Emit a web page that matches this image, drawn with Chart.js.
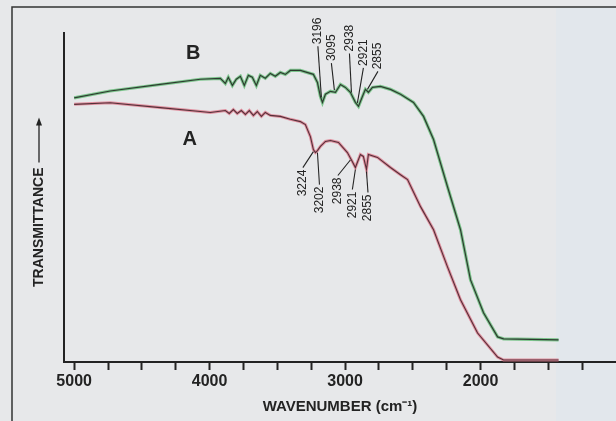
<!DOCTYPE html>
<html>
<head>
<meta charset="utf-8">
<script src="https://cdn.jsdelivr.net/npm/chart.js@4.4.0/dist/chart.umd.min.js"></script>
<style>
  html, body { margin: 0; padding: 0; background: #e7e8ea; }
  #wrap { position: relative; width: 616px; height: 421px; }
</style>
</head>
<body>
<div id="wrap"><canvas id="irChart" width="616" height="421"></canvas></div>
<script>
// Spectrum B (upper trace)
const bWavenumber = [5000, 4734, 4365, 4069, 3921, 3884, 3862, 3832, 3803, 3773, 3744, 3714, 3685, 3655, 3626, 3589, 3552, 3515, 3478, 3441, 3404, 3330, 3234, 3204, 3182, 3167, 3145, 3108, 3071, 3034, 2998, 2961, 2924, 2901, 2872, 2850, 2828, 2798, 2739, 2665, 2591, 2495, 2421, 2347, 2244, 2148, 2074, 1978, 1874, 1830, 1424];
const bTransmittance = [81.1, 83.2, 85.2, 86.8, 87.1, 85.5, 87.4, 84.9, 86.8, 87.7, 84.9, 88.0, 87.4, 84.9, 88.0, 87.1, 88.6, 87.7, 88.9, 88.3, 89.5, 89.5, 88.3, 85.8, 81.5, 79.7, 82.2, 83.1, 82.8, 85.2, 84.3, 82.8, 79.7, 78.5, 81.5, 83.7, 82.8, 84.3, 84.6, 83.7, 82.2, 79.7, 75.4, 68.3, 53.8, 40.6, 25.2, 15.1, 7.7, 7.1, 6.8];

// Spectrum A (lower trace)
const aWavenumber = [5000, 4734, 4365, 4069, 3995, 3884, 3855, 3825, 3796, 3766, 3736, 3707, 3677, 3648, 3618, 3589, 3552, 3478, 3404, 3330, 3293, 3256, 3234, 3219, 3204, 3182, 3145, 3108, 3049, 2983, 2946, 2924, 2887, 2865, 2842, 2828, 2761, 2665, 2591, 2539, 2443, 2347, 2244, 2148, 2022, 1874, 1830, 1424];
const aTransmittance = [79.1, 79.6, 78.1, 76.9, 76.6, 77.2, 76.3, 77.5, 76.3, 77.2, 76.0, 77.2, 75.7, 76.9, 75.4, 76.6, 75.7, 75.4, 74.5, 73.8, 72.9, 69.2, 65.2, 64.3, 64.9, 66.2, 67.7, 68.0, 67.4, 64.3, 61.5, 59.7, 63.7, 63.1, 59.1, 63.7, 62.8, 59.7, 57.5, 56.0, 47.7, 40.6, 29.2, 19.1, 8.9, 1.5, 0.6, 0.6];

// Peak labels and where their leader lines meet the trace
const bPeakLabels = ["3196", "3095", "2938", "2921", "2855"];
const bPeakAnchors = [3175, 3079, 2953, 2909, 2835];
const aPeakLabels = ["3224", "3202", "2938", "2921", "2855"];
const aPeakAnchors = [3234, 3204, 2961, 2924, 2842];

// Axis ticks
const tickValues = [5000, 4750, 4500, 4250, 4000, 3750, 3500, 3250, 3000, 2750, 2500, 2250, 2000, 1750, 1500, 1250];
const tickLabels = [5000, 4000, 3000, 2000];

const FONT = "'Liberation Sans', Arial, sans-serif";
const INK = "#232323";

// text offsets (px) from the anchor point: [dx, dy]
const bLabelOffsets = [[-3.5, -55], [-3, -31], [-2, -43], [6, -39], [10.5, -22]];
const aLabelOffsets = [[-10.5, 20], [2, 36], [-12.5, 19.5], [-3, 24], [1.5, 25]];

function toPoints(xs, ys) {
  return xs.map((x, i) => ({ x: x, y: ys[i] }));
}

function valueAt(xs, ys, wn) {
  for (let i = 0; i < xs.length - 1; i++) {
    if (wn <= xs[i] && wn >= xs[i + 1]) {
      const t = (xs[i] - wn) / (xs[i] - xs[i + 1]);
      return ys[i] + t * (ys[i + 1] - ys[i]);
    }
  }
  return ys[ys.length - 1];
}

const paperPlugin = {
  id: "paper",
  beforeDraw(chart) {
    const ctx = chart.ctx;
    ctx.save();
    ctx.fillStyle = "#e7e8ea";
    ctx.fillRect(0, 0, chart.width, chart.height);
    ctx.fillStyle = "#e2e7ec";
    ctx.fillRect(556, 8, chart.width - 556, chart.height - 8);
    // scan frame
    ctx.strokeStyle = "#333";
    ctx.lineWidth = 1.5;
    ctx.beginPath();
    ctx.moveTo(12, chart.height);
    ctx.lineTo(12, 7);
    ctx.lineTo(chart.width, 7);
    ctx.stroke();
    ctx.restore();
  },
};

function drawPeaks(chart, labels, anchors, offsets, xs, ys, above) {
  const ctx = chart.ctx;
  const sx = chart.scales.x;
  const sy = chart.scales.y;
  ctx.save();
  ctx.font = "12px " + FONT;
  ctx.fillStyle = INK;
  ctx.strokeStyle = INK;
  ctx.lineWidth = 1.1;
  labels.forEach((label, i) => {
    const ax = sx.getPixelForValue(anchors[i]);
    const ay = sy.getPixelForValue(valueAt(xs, ys, anchors[i]));
    const tx = ax + offsets[i][0];
    const ty = ay + offsets[i][1];
    ctx.beginPath();
    ctx.moveTo(tx, above ? ty + 2 : ty - 2);
    ctx.lineTo(ax, above ? ay - 2 : ay + 2);
    ctx.stroke();
    ctx.save();
    ctx.translate(tx, ty);
    ctx.rotate(-Math.PI / 2);
    ctx.textBaseline = "middle";
    ctx.textAlign = above ? "left" : "right";
    ctx.fillText(label, 0, 0);
    ctx.restore();
  });
  ctx.restore();
}

const annotationPlugin = {
  id: "annotations",
  afterDatasetsDraw(chart) {
    const ctx = chart.ctx;
    const sx = chart.scales.x;
    const sy = chart.scales.y;

    drawPeaks(chart, bPeakLabels, bPeakAnchors, bLabelOffsets, bWavenumber, bTransmittance, true);
    drawPeaks(chart, aPeakLabels, aPeakAnchors, aLabelOffsets, aWavenumber, aTransmittance, false);

    // trace letters
    ctx.save();
    ctx.fillStyle = INK;
    ctx.font = "bold 20px " + FONT;
    ctx.textAlign = "center";
    ctx.textBaseline = "middle";
    ctx.fillText("B", sx.getPixelForValue(4121), sy.getPixelForValue(94.6));
    ctx.fillText("A", sx.getPixelForValue(4147), sy.getPixelForValue(68.2));

    // y title with arrow
    ctx.translate(39, 287);
    ctx.rotate(-Math.PI / 2);
    ctx.font = "bold 14px " + FONT;
    ctx.textAlign = "left";
    ctx.fillText("TRANSMITTANCE", 0, 0);
    const w = ctx.measureText("TRANSMITTANCE").width;
    ctx.strokeStyle = INK;
    ctx.lineWidth = 1.3;
    ctx.beginPath();
    ctx.moveTo(w + 5, 0);
    ctx.lineTo(w + 46, 0);
    ctx.stroke();
    ctx.beginPath();
    ctx.moveTo(w + 50, 0);
    ctx.lineTo(w + 42, -3);
    ctx.lineTo(w + 42, 3);
    ctx.closePath();
    ctx.fill();
    ctx.restore();
  },
};

const ctx = document.getElementById("irChart").getContext("2d");

new Chart(ctx, {
  type: "line",
  data: {
    datasets: [
      {
        label: "B",
        data: toPoints(bWavenumber, bTransmittance),
        borderColor: "#2e3b30",
        borderWidth: 1.2,
        pointRadius: 0,
        tension: 0,
        order: 0,
      },
      {
        label: "A",
        data: toPoints(aWavenumber, aTransmittance),
        borderColor: "#553038",
        borderWidth: 1.1,
        pointRadius: 0,
        tension: 0,
        order: 0,
      },
      {
        label: "B tint",
        data: toPoints(bWavenumber, bTransmittance),
        borderColor: "rgba(90, 185, 110, 0.75)",
        borderWidth: 3.2,
        pointRadius: 0,
        tension: 0,
        order: 1,
      },
      {
        label: "A tint",
        data: toPoints(aWavenumber, aTransmittance),
        borderColor: "rgba(222, 115, 135, 0.75)",
        borderWidth: 3,
        pointRadius: 0,
        tension: 0,
        order: 1,
      },
    ],
  },
  options: {
    responsive: false,
    animation: false,
    layout: { padding: { top: 33, right: 0, bottom: 0, left: 0 } },
    plugins: {
      legend: { display: false },
      tooltip: { enabled: false },
    },
    scales: {
      x: {
        type: "linear",
        reverse: true,
        min: 1000,
        max: 5075,
        afterFit: (scale) => {
          scale.height = 59;
        },
        afterBuildTicks: (scale) => {
          scale.ticks = tickValues.map((v) => ({ value: v }));
        },
        ticks: {
          autoSkip: false,
          maxRotation: 0,
          padding: 2,
          color: INK,
          font: { family: FONT, size: 16, weight: "bold" },
          callback: (value) => (tickLabels.includes(value) ? String(value) : ""),
        },
        grid: {
          drawOnChartArea: false,
          drawTicks: true,
          tickLength: 8,
          tickWidth: 2,
          tickColor: INK,
        },
        border: { display: true, color: INK, width: 2 },
        title: {
          display: true,
          text: "WAVENUMBER (cm\u207B\u00B9)",
          color: INK,
          font: { family: FONT, size: 15, weight: "bold" },
          padding: { top: 0, bottom: 5 },
        },
      },
      y: {
        min: 0,
        max: 101,
        afterFit: (scale) => {
          scale.width = 64;
        },
        ticks: { display: false },
        grid: { display: false },
        border: { display: true, color: INK, width: 2 },
      },
    },
  },
  plugins: [paperPlugin, annotationPlugin],
});
</script>
</body>
</html>
